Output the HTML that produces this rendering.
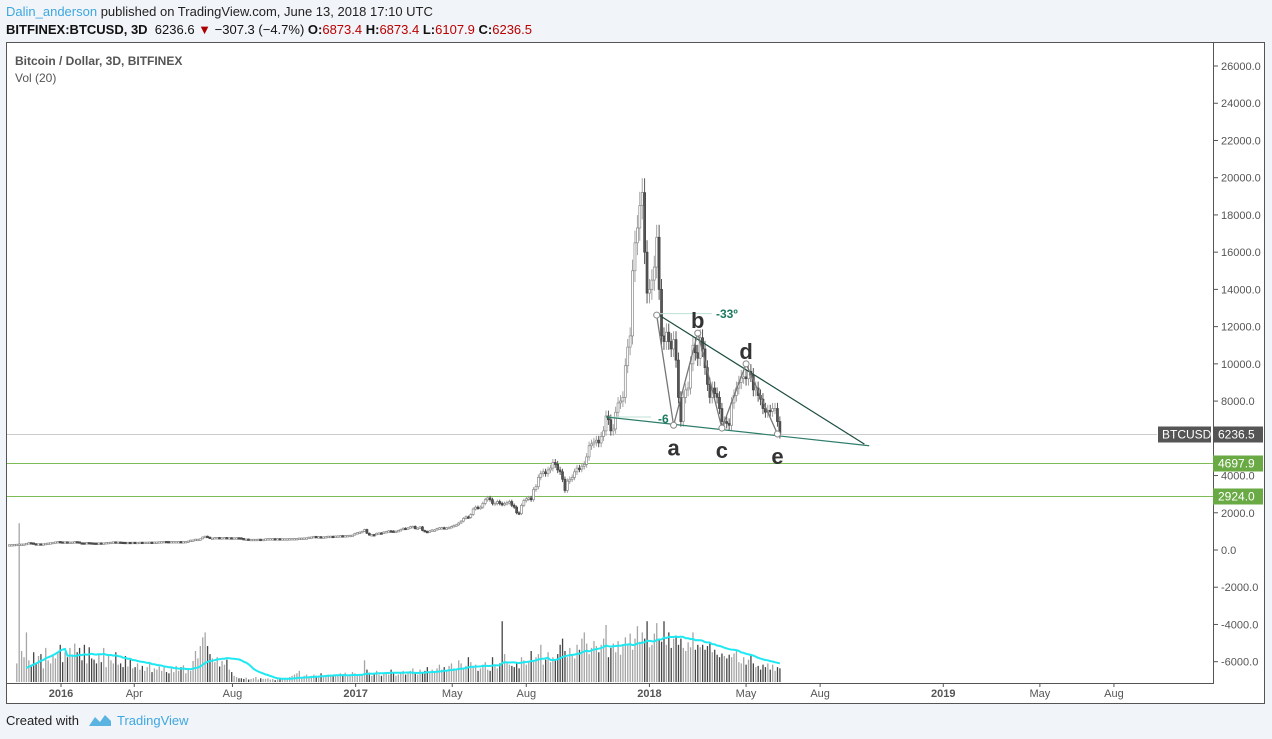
<!DOCTYPE html>
<html><head><meta charset="utf-8">
<style>
body{margin:0;width:1272px;height:739px;background:#f1f4f8;font-family:"Liberation Sans",sans-serif;overflow:hidden;position:relative}
.t{position:absolute;white-space:nowrap}
</style></head><body>
<div class="t" style="left:6px;top:4px;font-size:13px;color:#222"><span style="color:#3ea7e0">Dalin_anderson</span> published on TradingView.com, June 13, 2018 17:10 UTC</div>
<div class="t" style="left:6px;top:22px;font-size:13px;color:#111"><b>BITFINEX:BTCUSD, 3D</b>&nbsp; 6236.6 <span style="color:#a00">▼</span> −307.3 (−4.7%) <b>O:</b><span style="color:#b00">6873.4</span> <b>H:</b><span style="color:#b00">6873.4</span> <b>L:</b><span style="color:#b00">6107.9</span> <b>C:</b><span style="color:#b00">6236.5</span></div>
<svg id="ch" width="1272" height="739" style="position:absolute;left:0;top:0" xmlns="http://www.w3.org/2000/svg" font-family="Liberation Sans, sans-serif"></svg>
<div class="t" style="left:6px;top:713px;font-size:13px;color:#222">Created with</div>
<svg width="24" height="14" style="position:absolute;left:88px;top:713px"><path d="M1 13 L7 4 L12 9 L17 2 L23 8 L23 13 Z" fill="#5ab4e2"/></svg>
<div class="t" style="left:117px;top:713px;font-size:13px;color:#3ea7e0">TradingView</div>
<script>
const closes=[285,290,300,310,320,
320,325,360,395,380,340,330,335,325,330,360,375,390,415,435,455,440,430,440,425,430,
430,450,440,390,385,380,400,390,380,375,
370,385,375,380,400,410,420,440,425,430,
420,415,410,415,412,418,415,415,420,416,
420,422,425,424,428,430,445,450,460,455,
450,455,455,455,455,445,450,460,480,530,
540,580,580,600,700,740,690,620,640,670,
670,640,660,670,660,660,655,655,660,655,
620,590,590,575,575,575,575,580,575,575,
600,610,610,610,605,610,600,605,605,605,
610,615,615,620,640,640,650,655,690,700,
730,710,715,700,705,720,740,740,735,750,
760,770,765,770,780,790,800,890,930,960,
1000,1100,900,800,830,820,900,920,900,970,
990,1030,1020,1000,1010,1050,1100,1170,1150,1190,
1250,1270,1150,1180,1240,1050,1000,970,1030,1080,
1080,1150,1190,1200,1180,1190,1220,1260,1320,1350,
1450,1550,1700,1780,1750,1900,2200,2300,2250,2300,
2500,2700,2800,2700,2500,2500,2600,2500,2450,2500,
2550,2600,2400,2300,2000,1950,2400,2650,2750,2800,
2700,3250,3400,3900,4100,4200,4100,4300,4400,4700,
4600,4300,4200,3800,3200,3700,3800,3900,4200,4400,
4350,4500,4600,5000,5600,5700,5800,5900,5750,6100,
6400,7200,7000,6400,6500,7400,7900,8000,8200,9900,
10900,11500,15000,16500,17300,18500,19200,16000,13800,14000,
14500,15200,16800,14000,11500,11200,11700,11200,10800,11300,
10200,8200,6900,8200,8600,8700,10000,11000,10600,10300,
11400,10800,9800,8900,8200,8700,8400,8200,7600,6900,
6900,6800,6700,7900,8300,8700,9000,9300,9300,9200,
9600,9400,8600,8700,8300,8100,7600,7400,7500,7450,
7600,7600,6900,6236];
const volumes=[30,256,50,40,80,35,28,48,30,42,
45,22,55,35,30,42,38,48,60,32,48,40,55,42,62,48,55,35,60,30,56,38,36,
30,45,32,55,24,44,35,30,48,28,
30,24,42,25,36,22,24,30,20,26,
18,24,30,16,22,20,25,18,24,16,
14,22,16,26,18,24,27,14,20,18,
34,50,38,58,72,80,58,45,38,32,
40,25,34,28,36,20,16,10,8,6,
6,5,7,4,5,6,8,4,6,5,
5,6,4,5,3,4,5,6,4,5,
8,10,12,14,18,8,10,12,9,10,
12,10,9,14,8,10,12,10,9,11,
10,14,12,15,9,12,16,14,10,12,
12,35,20,15,10,14,18,12,10,15,
16,12,20,14,10,12,16,18,12,14,
18,22,14,12,20,16,18,24,14,20,
16,22,28,20,24,18,26,30,22,20,
35,30,22,26,40,32,24,28,18,22,
28,32,20,18,40,26,22,30,98,45,
30,28,26,24,30,22,40,35,28,32,
50,35,40,45,60,28,36,48,32,40,
35,45,60,70,50,40,55,45,38,60,
52,70,80,62,45,55,66,58,48,60,
70,92,40,55,62,48,66,44,58,72,
60,78,52,70,90,65,80,70,98,56,
60,78,95,70,65,98,60,80,55,70,
75,60,70,55,50,64,56,80,52,60,
56,60,52,58,62,48,52,44,40,46,
42,38,44,40,46,52,32,30,40,28,
36,44,30,24,26,20,28,24,30,20,
28,18,24,22];
const tickVals=[26000,24000,22000,20000,18000,16000,14000,12000,10000,8000,6000,4000,2000,0,-2000,-4000,-6000];
const timeLabels=["2016","Apr","Aug","2017","May","Aug","2018","May","Aug","2019","May","Aug"];
const timeDays=[0,91,213,366,486,578,731,851,943,1096,1216,1308];
const timeBold=[1,0,0,1,0,0,1,0,0,1,0,0];
const hLevels=[4697.9,2924.0];
const lastPrice=6236.5;
const waveIdx=[268,275,285,295,305,318];
const wavePrice=[12620,6700,11650,6550,10000,6230];
const waveNames=["","a","b","c","d","e"];
const upperLine=[[268,12700],[354,5690]];
const lowerLine=[[247,7145],[356,5600]];

const svg=document.getElementById('ch');
const NS='http://www.w3.org/2000/svg';
const X0=61,PXD=0.805,STEP=3;
const START=893-(closes.length-1)*STEP;
const xd=d=>X0+d*PXD;
const xi=i=>xd(START+i*STEP);
const yp=v=>550-v*0.018615;
const yv=v=>682-v*0.62;
function el(tag,attrs,parent){const e=document.createElementNS(NS,tag);for(const k in attrs)e.setAttribute(k,attrs[k]);(parent||svg).appendChild(e);return e;}

const frame=el('rect',{x:6.5,y:42.5,width:1258,height:661,fill:'#fff',stroke:'#555'});


const plot=el('rect',{x:6.5,y:42.5,width:1207,height:641,fill:'none',stroke:'#555'});



tickVals.forEach(v=>{const y=yp(v);
 el('line',{x1:1213,x2:1218,y1:y,y2:y,stroke:'#555'});
 const t=el('text',{x:1221,y:y+4,'font-size':11,fill:'#555'});t.textContent=v.toFixed(1);
 
 
});
timeLabels.forEach((s,i)=>{const x=xd(timeDays[i]);
 el('line',{x1:x,x2:x,y1:683,y2:687,stroke:'#555'});
 const t=el('text',{x:x,y:697,'font-size':11,fill:'#555','text-anchor':'middle','font-weight':timeBold[i]?'bold':'normal'});t.textContent=s;
 
 
});
const l1=el('text',{x:15,y:65,'font-size':12,fill:'#555','font-weight':'bold'});l1.textContent='Bitcoin / Dollar, 3D, BITFINEX';


const l2=el('text',{x:15,y:82,'font-size':12,fill:'#555'});l2.textContent='Vol (20)';



hLevels.forEach(v=>{const y=Math.round(yp(v))+.5;
 const ln=el('line',{x1:7,x2:1213,y1:y,y2:y,stroke:'#7cbb55','stroke-width':1});
 
 
 el('rect',{x:1213,y:y-8,width:50,height:16,fill:'#6aaa45'});
 const t=el('text',{x:1218,y:y+4,'font-size':12,fill:'#fff'});t.textContent=v.toFixed(1);
 
 
});
{const y=Math.round(yp(lastPrice))+.5;
 const ln=el('line',{x1:7,x2:1157,y1:y,y2:y,stroke:'#ccc'});
 
 
 el('rect',{x:1158,y:y-8,width:53,height:16,fill:'#555'});
 const a=el('text',{x:1162,y:y+4,'font-size':12,fill:'#fff'});a.textContent='BTCUSD';
 
 
 el('rect',{x:1213,y:y-8,width:50,height:16,fill:'#555'});
 const b=el('text',{x:1218,y:y+4,'font-size':12,fill:'#fff'});b.textContent=lastPrice.toFixed(1);
 
 
}
const VOFF=closes.length-volumes.length;
volumes.forEach((v,j)=>{const i=j+VOFF;const x=xi(i);const up=i<=0||closes[i]>=closes[i-1];
 const r=el('rect',{x:x-0.6,y:yv(v),width:1.3,height:682-yv(v),fill:up?'#a5a5a5':'#444'});
 
 
});
{let pts=[];for(let j=4;j<volumes.length;j++){const s=volumes.slice(Math.max(0,j-19),j+1);const m=s.reduce((a,b)=>a+b,0)/20;pts.push(xi(j+VOFF).toFixed(1)+','+yv(m).toFixed(1));}
 const p=el('polyline',{points:pts.join(' '),fill:'none',stroke:'#1ee8f2','stroke-width':2});
 
 
}
closes.forEach((c,i)=>{const o=i?closes[i-1]:c;const x=xi(i);const hi=Math.max(o,c)*1.04,lo=Math.min(o,c)*0.96;const up=c>=o;
 el('line',{x1:x,x2:x,y1:yp(hi),y2:yp(lo),stroke:up?'#999':'#444','stroke-width':0.9});
 const top=yp(Math.max(o,c)),h=Math.max(1.5,yp(Math.min(o,c))-top);
 const r=el('rect',{x:x-1,y:top,width:2,height:h,fill:up?'#fff':'#555',stroke:up?'#888':'#444','stroke-width':0.7});
 
 
});
[upperLine,lowerLine].forEach((L,k)=>{
 el('line',{x1:xi(L[0][0]),y1:yp(L[0][1]),x2:xi(L[0][0])+(k?45:55),y2:yp(L[0][1]),stroke:'#bfe0d6','stroke-width':1});
 const ln=el('line',{x1:xi(L[0][0]),y1:yp(L[0][1]),x2:xi(L[1][0]),y2:yp(L[1][1]),stroke:k?'#2e7d6b':'#1d4d40','stroke-width':1.2});
 
 
});
const ang1=el('text',{x:716,y:318,'font-size':12,fill:'#1a7a5e','font-weight':'bold'});ang1.textContent='-33º';


const ang2=el('text',{x:658,y:423,'font-size':12,fill:'#1a7a5e','font-weight':'bold'});ang2.textContent='-6';


{const pts=waveIdx.map((d,i)=>xi(d).toFixed(1)+','+yp(wavePrice[i]).toFixed(1)).join(' ');
 const p=el('polyline',{points:pts,fill:'none',stroke:'#777','stroke-width':1.3});
 
 
 waveIdx.forEach((d,i)=>{const x=xi(d),y=yp(wavePrice[i]);
  el('circle',{cx:x,cy:y,r:3,fill:'#fff',stroke:'#888'});
  if(!waveNames[i])return;
  const above=(i%2==0);
  const t=el('text',{x:x,y:above?y-5:y+30,'font-size':22,'font-weight':'bold',fill:'#333','text-anchor':'middle'});t.textContent=waveNames[i];
  
  
 });
}
</script>
</body></html>
